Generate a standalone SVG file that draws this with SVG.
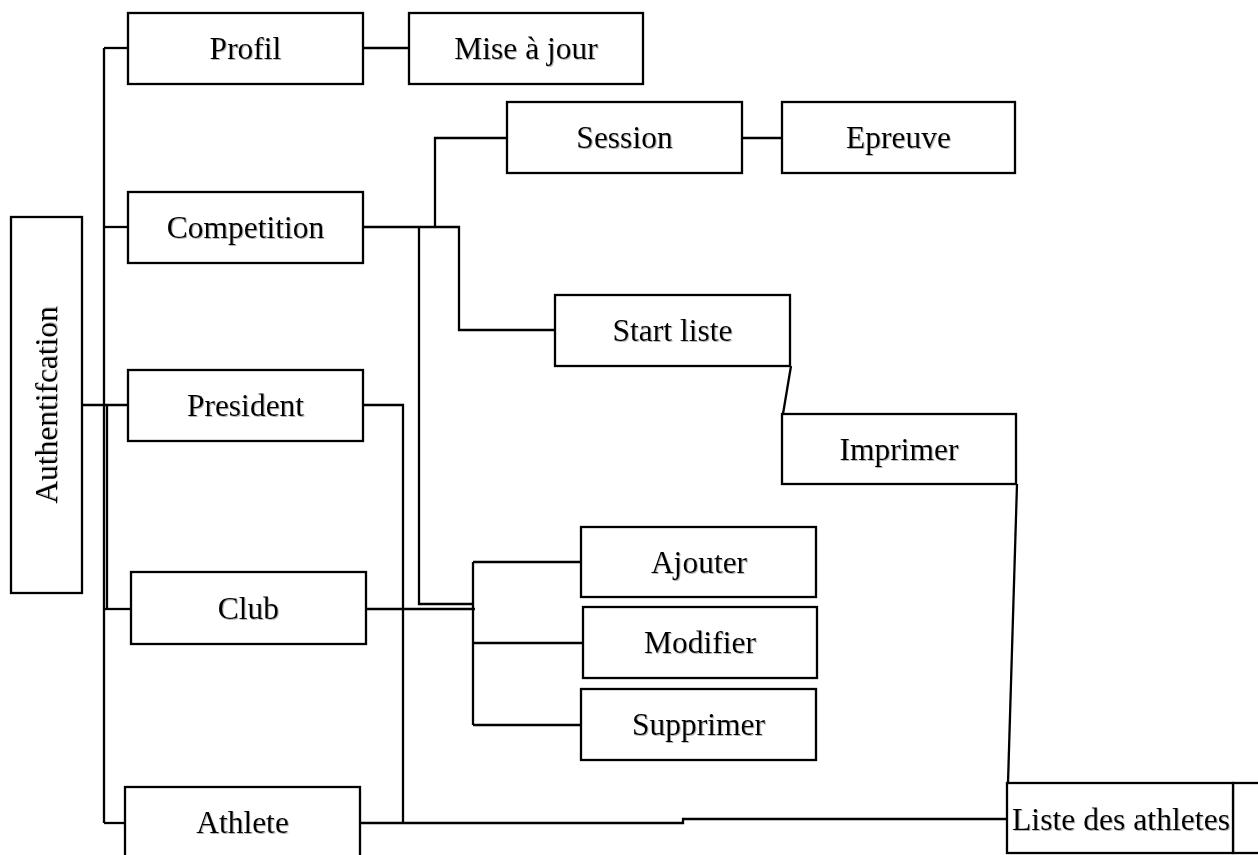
<svg xmlns="http://www.w3.org/2000/svg" width="1258" height="855" viewBox="0 0 1258 855">
  <defs>
    <filter id="soft" x="-5%" y="-20%" width="110%" height="140%">
      <feDropShadow dx="1" dy="1" stdDeviation="0.7" flood-color="#777" flood-opacity="0.55"/>
    </filter>
  </defs>
  <style>
    .box { fill: #fff; stroke: #000; stroke-width: 2.3; }
    .lbl { font-family: "Liberation Serif", "Times New Roman", serif; font-size: 31.5px; fill: #000; text-anchor: middle; filter: url(#soft); }
    .wire { fill: none; stroke: #000; stroke-width: 2.3; }
  </style>
  <rect width="1258" height="855" fill="#fff"/>

  <!-- connectors -->
  <g id="connectors" class="wire">
    <!-- main trunk from Authentifcation -->
    <path d="M104 48 V823"/>
    <path d="M107 405 V609"/>
    <path d="M104 48 H128"/>
    <path d="M104 227 H128"/>
    <path d="M82 405 H128"/>
    <path d="M104 609 H131"/>
    <path d="M104 823 H125"/>
    <!-- Profil -> Mise à jour -->
    <path d="M363 48 H409"/>
    <!-- Competition branches -->
    <path d="M363 227 H459 V330 H555"/>
    <path d="M435 227 V138 H507"/>
    <path d="M742 138 H782"/>
    <path d="M419 227 V604 H473"/>
    <!-- Start liste -> Imprimer -> Liste des athletes -->
    <path d="M791 366 L783 414"/>
    <path d="M1017 484 L1008 783"/>
    <!-- President -->
    <path d="M363 405 H403 V823"/>
    <!-- Club -> Ajouter / Modifier / Supprimer -->
    <path d="M366 609 H475"/>
    <path d="M473 562 V725"/>
    <path d="M473 562 H581"/>
    <path d="M473 643 H583"/>
    <path d="M473 725 H581"/>
    <!-- Athlete -> Liste des athletes -->
    <path d="M360 823 H683 V819 H1008"/>
  </g>

  <g id="authentifcation">
    <rect class="box" x="11" y="217" width="71" height="376"/>
    <text class="lbl" transform="translate(57,405) rotate(-90)">Authentifcation</text>
  </g>

  <g id="profil">
    <rect class="box" x="128" y="13" width="235" height="71"/>
    <text class="lbl" x="245.5" y="59">Profil</text>
  </g>

  <g id="mise-a-jour">
    <rect class="box" x="409" y="13" width="234" height="71"/>
    <text class="lbl" x="526" y="59">Mise à jour</text>
  </g>

  <g id="competition">
    <rect class="box" x="128" y="192" width="235" height="71"/>
    <text class="lbl" x="245.5" y="238">Competition</text>
  </g>

  <g id="session">
    <rect class="box" x="507" y="102" width="235" height="71"/>
    <text class="lbl" x="624.5" y="148">Session</text>
  </g>

  <g id="epreuve">
    <rect class="box" x="782" y="102" width="233" height="71"/>
    <text class="lbl" x="898.5" y="148">Epreuve</text>
  </g>

  <g id="start-liste">
    <rect class="box" x="555" y="295" width="235" height="71"/>
    <text class="lbl" x="672.5" y="341">Start liste</text>
  </g>

  <g id="imprimer">
    <rect class="box" x="782" y="414" width="234" height="70"/>
    <text class="lbl" x="899" y="460">Imprimer</text>
  </g>

  <g id="president">
    <rect class="box" x="128" y="370" width="235" height="71"/>
    <text class="lbl" x="245.5" y="416">President</text>
  </g>

  <g id="club">
    <rect class="box" x="131" y="572" width="235" height="72"/>
    <text class="lbl" x="248.5" y="619">Club</text>
  </g>

  <g id="ajouter">
    <rect class="box" x="581" y="527" width="235" height="70"/>
    <text class="lbl" x="699" y="573">Ajouter</text>
  </g>

  <g id="modifier">
    <rect class="box" x="583" y="607" width="234" height="71"/>
    <text class="lbl" x="700" y="653">Modifier</text>
  </g>

  <g id="supprimer">
    <rect class="box" x="581" y="689" width="235" height="71"/>
    <text class="lbl" x="698.5" y="735">Supprimer</text>
  </g>

  <g id="athlete">
    <rect class="box" x="125" y="787" width="235" height="80"/>
    <text class="lbl" x="242.5" y="833">Athlete</text>
  </g>

  <g id="liste-des-athletes">
    <rect class="box" x="1233" y="783" width="40" height="70"/>
    <rect class="box" x="1007" y="783" width="226" height="70"/>
    <text class="lbl" x="1121" y="830" textLength="218" lengthAdjust="spacingAndGlyphs">Liste des athletes</text>
  </g>
</svg>
